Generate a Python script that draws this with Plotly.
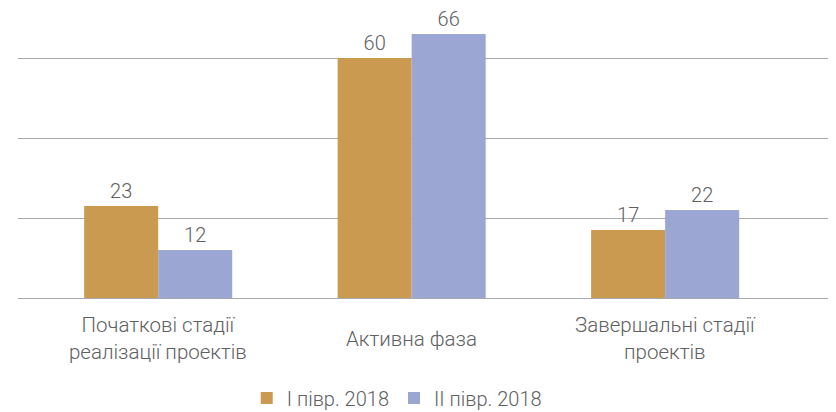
import plotly.graph_objects as go

categories = ["Початкові стадії<br>реалізації проектів", "Активна фаза", "Завершальні стадії<br>проектів"]
series_names = ["І півр. 2018", "ІІ півр. 2018"]
h1_2018 = [23, 60, 17]
h2_2018 = [12, 66, 22]
colors = ["#C99A50", "#9BA6D2"]

text_color = "#606060"
fig = go.Figure()
for name, vals, col in zip(series_names, [h1_2018, h2_2018], colors):
    fig.add_trace(go.Bar(
        x=categories, y=vals, name=name,
        marker=dict(color=col, line=dict(width=0)),
        text=[str(v) for v in vals], textposition="outside",
        textfont=dict(size=20, color=text_color, family="Roboto", weight=300),
        cliponaxis=False,
    ))

# category labels centred vertically like the original
for c in categories:
    fig.add_annotation(
        x=c, xref="x", y=-0.146, yref="paper", yanchor="middle",
        text=c, showarrow=False, align="center",
        font=dict(size=20.5, color=text_color, family="Roboto", weight=300),
    )

# the page body has an 8px margin, so the figure is sized to the visible area
fig.update_layout(
    width=828, height=404,
    margin=dict(l=10, r=0, t=10, b=114, autoexpand=False),
    plot_bgcolor="white", paper_bgcolor="white",
    barmode="group", bargap=0.416, bargroupgap=0,
    font=dict(family="Roboto", color=text_color),
    showlegend=True,
    legend=dict(orientation="h", x=0.463, xanchor="center", y=-0.357, yanchor="middle",
                font=dict(size=20, color=text_color, weight=300), itemclick=False,
                tracegroupgap=0),
    xaxis=dict(range=[-0.553, 2.674], showticklabels=False, showgrid=False,
               zeroline=False, showline=False, ticks=""),
    yaxis=dict(range=[0, 70], tick0=0, dtick=20, showticklabels=False,
               showgrid=True, gridcolor="#A7AAAF", gridwidth=1,
               zeroline=True, zerolinecolor="#A7AAAF", zerolinewidth=1),
)

fig.write_html("out.html")
